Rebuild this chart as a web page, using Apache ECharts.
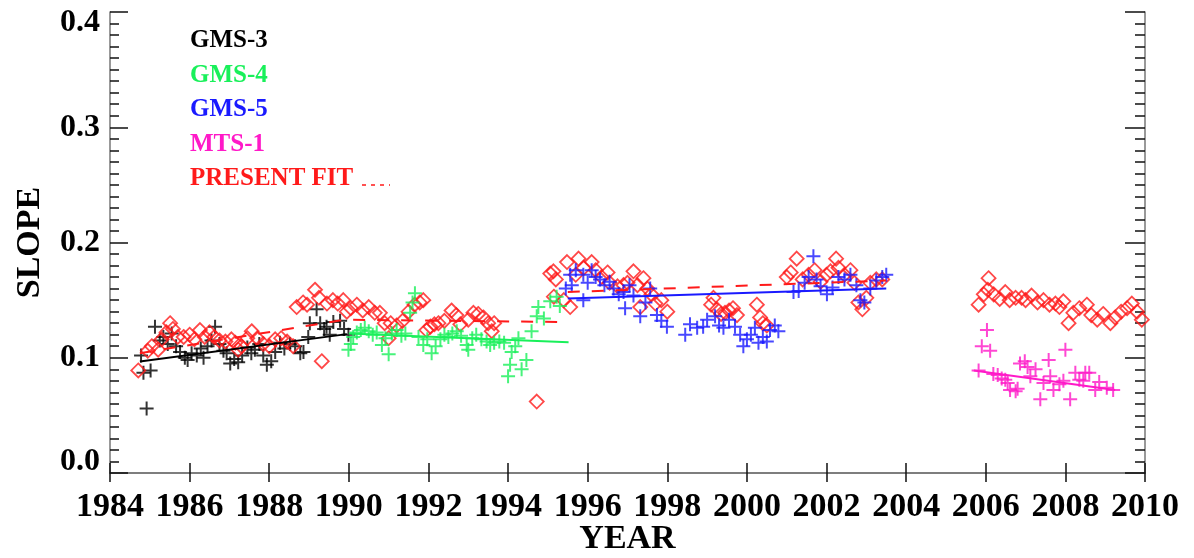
<!DOCTYPE html>
<html>
<head>
<meta charset="utf-8">
<script src="https://cdn.jsdelivr.net/npm/echarts@6/dist/echarts.min.js"></script>
<style>
  html, body { margin: 0; background: #fff; }
  #chart { width: 1194px; height: 558px; }
</style>
</head>
<body>
<div id="chart"></div>
<script>
// tick labels
const yearTicks = [1984, 1986, 1988, 1990, 1992, 1994, 1996, 1998, 2000, 2002, 2004, 2006, 2008, 2010];
const slopeTicks = [0.0, 0.1, 0.2, 0.3, 0.4];

// satellite slopes, [year, slope]
const gms3 = [[1984.78,0.102],[1984.84,0.087],[1984.92,0.056],[1985.02,0.089],[1985.13,0.127],[1985.25,0.115],[1985.34,0.118],[1985.45,0.112],[1985.55,0.121],[1985.66,0.110],[1985.76,0.105],[1985.88,0.100],[1985.95,0.098],[1986.05,0.104],[1986.18,0.102],[1986.28,0.108],[1986.35,0.100],[1986.45,0.110],[1986.55,0.115],[1986.64,0.127],[1986.75,0.112],[1986.85,0.106],[1986.93,0.104],[1987.02,0.095],[1987.12,0.099],[1987.22,0.096],[1987.32,0.102],[1987.45,0.109],[1987.55,0.104],[1987.64,0.107],[1987.75,0.112],[1987.85,0.102],[1987.94,0.094],[1988.05,0.097],[1988.15,0.105],[1988.27,0.113],[1988.38,0.108],[1988.52,0.112],[1988.65,0.110],[1988.78,0.104],[1988.86,0.105],[1988.98,0.118],[1989.02,0.130],[1989.19,0.142],[1989.28,0.130],[1989.38,0.125],[1989.44,0.127],[1989.52,0.120],[1989.61,0.131],[1989.78,0.132],[1989.88,0.125],[1989.99,0.120]];
const gms4 = [[1989.99,0.107],[1990.05,0.112],[1990.11,0.118],[1990.2,0.122],[1990.3,0.124],[1990.4,0.126],[1990.5,0.123],[1990.6,0.120],[1990.7,0.122],[1990.83,0.111],[1990.92,0.117],[1991.0,0.103],[1991.08,0.121],[1991.2,0.124],[1991.32,0.119],[1991.42,0.121],[1991.54,0.139],[1991.6,0.148],[1991.66,0.156],[1991.75,0.118],[1991.87,0.111],[1991.97,0.116],[1992.08,0.104],[1992.18,0.110],[1992.3,0.116],[1992.4,0.120],[1992.5,0.118],[1992.6,0.121],[1992.71,0.123],[1992.82,0.119],[1992.96,0.111],[1993.0,0.107],[1993.1,0.117],[1993.2,0.120],[1993.33,0.116],[1993.46,0.114],[1993.55,0.111],[1993.65,0.113],[1993.78,0.114],[1993.9,0.113],[1994.0,0.084],[1994.05,0.094],[1994.09,0.105],[1994.18,0.110],[1994.26,0.117],[1994.34,0.090],[1994.46,0.098],[1994.59,0.123],[1994.72,0.136],[1994.76,0.144],[1994.9,0.134],[1995.06,0.149],[1995.22,0.153],[1995.3,0.145]];
const gms5 = [[1995.45,0.160],[1995.56,0.172],[1995.6,0.163],[1995.7,0.176],[1995.89,0.172],[1995.89,0.150],[1996.0,0.165],[1996.1,0.176],[1996.2,0.170],[1996.31,0.168],[1996.42,0.163],[1996.55,0.166],[1996.65,0.160],[1996.78,0.155],[1996.9,0.157],[1996.94,0.143],[1997.05,0.163],[1997.15,0.154],[1997.32,0.136],[1997.45,0.148],[1997.57,0.160],[1997.74,0.137],[1997.85,0.132],[1997.99,0.127],[1998.45,0.120],[1998.57,0.129],[1998.75,0.126],[1998.9,0.127],[1999.0,0.133],[1999.2,0.136],[1999.3,0.128],[1999.41,0.126],[1999.55,0.133],[1999.7,0.127],[1999.83,0.120],[1999.91,0.110],[2000.0,0.116],[2000.1,0.120],[2000.2,0.126],[2000.29,0.113],[2000.4,0.118],[2000.5,0.114],[2000.58,0.124],[2000.7,0.128],[2000.79,0.123],[2001.17,0.157],[2001.3,0.158],[2001.45,0.165],[2001.55,0.170],[2001.67,0.188],[2001.75,0.168],[2001.85,0.162],[2002.01,0.155],[2002.15,0.161],[2002.3,0.170],[2002.45,0.168],[2002.6,0.172],[2002.75,0.163],[2002.85,0.150],[2002.95,0.148],[2003.1,0.160],[2003.25,0.167],[2003.4,0.170],[2003.5,0.172]];
const mts1 = [[2005.82,0.089],[2005.9,0.110],[2006.03,0.124],[2006.11,0.106],[2006.19,0.086],[2006.3,0.085],[2006.4,0.082],[2006.49,0.081],[2006.55,0.078],[2006.61,0.072],[2006.75,0.071],[2006.8,0.073],[2006.86,0.095],[2006.98,0.097],[2007.05,0.092],[2007.12,0.084],[2007.25,0.090],[2007.37,0.064],[2007.45,0.078],[2007.58,0.098],[2007.62,0.084],[2007.7,0.072],[2007.85,0.077],[2007.95,0.080],[2008.0,0.107],[2008.12,0.064],[2008.25,0.087],[2008.35,0.081],[2008.45,0.080],[2008.5,0.087],[2008.6,0.087],[2008.75,0.072],[2008.85,0.079],[2009.04,0.074],[2009.2,0.072]];
const present = [[1984.71,0.089],[1984.95,0.106],[1985.05,0.110],[1985.21,0.107],[1985.3,0.116],[1985.42,0.122],[1985.51,0.130],[1985.58,0.125],[1985.7,0.118],[1985.85,0.118],[1986.0,0.120],[1986.12,0.116],[1986.26,0.124],[1986.38,0.118],[1986.5,0.122],[1986.62,0.118],[1986.75,0.115],[1986.9,0.114],[1987.05,0.116],[1987.15,0.113],[1987.22,0.107],[1987.3,0.110],[1987.45,0.117],[1987.56,0.123],[1987.7,0.117],[1987.85,0.112],[1988.0,0.110],[1988.15,0.116],[1988.3,0.117],[1988.45,0.114],[1988.6,0.110],[1988.69,0.144],[1988.85,0.148],[1988.95,0.146],[1989.15,0.159],[1989.25,0.152],[1989.32,0.097],[1989.45,0.147],[1989.6,0.150],[1989.72,0.147],[1989.86,0.150],[1989.95,0.140],
  [1990.05,0.143],[1990.2,0.146],[1990.35,0.141],[1990.5,0.144],[1990.65,0.139],[1990.78,0.139],[1990.9,0.130],[1991.0,0.117],[1991.05,0.130],[1991.2,0.128],[1991.35,0.132],[1991.5,0.140],[1991.65,0.146],[1991.78,0.148],[1991.87,0.150],[1991.95,0.124],[1992.05,0.127],[1992.15,0.129],[1992.25,0.130],[1992.4,0.132],[1992.58,0.141],[1992.7,0.137],[1992.8,0.129],[1993.0,0.133],[1993.13,0.139],[1993.25,0.138],[1993.38,0.135],[1993.5,0.130],[1993.59,0.123],[1993.65,0.130],[1994.72,0.062],[1995.06,0.173],[1995.14,0.175],[1995.2,0.168],[1995.15,0.153],[1995.4,0.150],[1995.48,0.183],[1995.56,0.144],
  [1995.7,0.172],[1995.77,0.186],[1995.9,0.178],[1996.1,0.183],[1996.2,0.176],[1996.35,0.170],[1996.5,0.174],[1996.55,0.165],[1996.75,0.162],[1996.9,0.163],[1997.0,0.165],[1997.15,0.175],[1997.25,0.163],[1997.32,0.144],[1997.4,0.169],[1997.5,0.160],[1997.6,0.155],[1997.7,0.147],[1997.85,0.150],[1998.0,0.140],[1999.1,0.146],[1999.16,0.152],[1999.25,0.142],[1999.35,0.138],[1999.45,0.139],[1999.55,0.141],[1999.65,0.143],[1999.75,0.137],[2000.25,0.146],[2000.33,0.135],[2000.4,0.130],[2000.5,0.128],[2001.0,0.170],[2001.1,0.174],[2001.25,0.186],[2001.4,0.168],[2001.55,0.172],[2001.7,0.176],[2001.85,0.166],[2002.0,0.172],[2002.1,0.175],[2002.24,0.186],[2002.3,0.178],[2002.45,0.172],[2002.6,0.176],[2002.7,0.165],[2002.8,0.148],[2002.9,0.142],[2003.0,0.152],[2003.1,0.165],[2003.25,0.168],[2003.4,0.168],
  [2005.82,0.146],[2005.95,0.155],[2006.05,0.159],[2006.07,0.169],[2006.2,0.155],[2006.35,0.151],[2006.49,0.157],[2006.6,0.150],[2006.75,0.152],[2006.9,0.152],[2007.0,0.150],[2007.15,0.154],[2007.3,0.148],[2007.45,0.150],[2007.6,0.146],[2007.75,0.147],[2007.85,0.144],[2007.95,0.149],[2008.08,0.130],[2008.2,0.139],[2008.35,0.143],[2008.54,0.146],[2008.65,0.137],[2008.8,0.133],[2008.95,0.138],[2009.13,0.130],[2009.25,0.135],[2009.4,0.140],[2009.55,0.143],[2009.67,0.147],[2009.8,0.140],[2009.92,0.133]];

// linear fits, end points
const gms3Fit = [[1984.75,0.0967],[1989.95,0.1205]];
const gms4Fit = [[1990.0,0.121],[1995.52,0.1135]];
const gms5Fit = [[1995.5,0.1515],[2003.5,0.160]];
const mts1Fit = [[2005.7,0.089],[2009.25,0.072]];
const presentFitA = [[1984.75,0.104],[1989.9,0.133],[1995.5,0.131]];
const presentFitB = [[1995.5,0.157],[2003.5,0.167]];

const C3 = '#000000', C4 = '#19f05a', C5 = '#1a1aff', CM = '#ff19c8', CR = '#ff1a1a';
const FONT = 'Liberation Serif';
const plus = 'path://M0,7L14,7M7,0L7,14';

function crosses(name, data, color) {
  return {
    name, type: 'scatter', data, symbol: plus, symbolSize: 14,
    itemStyle: { color: 'none', borderColor: color, borderWidth: 2 }
  };
}
function fit(data, color, dashed) {
  return {
    type: 'line', data, symbol: 'none', silent: true,
    lineStyle: { color, width: 2, type: dashed ? [12, 12] : 'solid' }
  };
}

const myChart = echarts.init(document.getElementById('chart'));
const tickStyle = { color: '#111', width: 1.5 };
const legendFont = 'bold 25px "Liberation Serif"';
const option = {
  animation: false,
  grid: { left: 110, right: 49, top: 12, bottom: 85, outerBoundsMode: 'none', containLabel: false },
  xAxis: [{
    type: 'value', min: 1984, max: 2010, interval: 2,
    name: 'YEAR', nameLocation: 'middle', nameGap: 49, nameMoveOverlap: false,
    nameTextStyle: { fontFamily: FONT, fontWeight: 'bold', fontSize: 34, color: '#000' },
    axisLine: { lineStyle: { color: '#777', width: 1.5 } },
    axisTick: { inside: true, length: 10, lineStyle: tickStyle },
    axisLabel: {
      margin: 17, fontFamily: FONT, fontWeight: 'bold', fontSize: 34, color: '#000',
      formatter: v => yearTicks.includes(v) ? String(v) : ''
    },
    splitLine: { show: false }
  }, {
    type: 'value', position: 'top', min: 1984, max: 2010, interval: 2,
    axisLine: { lineStyle: { color: '#777', width: 1.5 } },
    axisTick: { inside: true, length: 9, lineStyle: tickStyle },
    axisLabel: { show: false }, splitLine: { show: false }
  }],
  yAxis: [{
    type: 'value', min: 0, max: 0.4, interval: 0.1,
    name: 'SLOPE', nameLocation: 'middle', nameGap: 63, nameRotate: 90,
    nameTextStyle: { fontFamily: FONT, fontWeight: 'bold', fontSize: 34, color: '#000' },
    axisLine: { lineStyle: { color: '#777', width: 1.5 } },
    axisTick: { inside: true, length: 18, lineStyle: tickStyle },
    minorTick: { show: true, splitNumber: 10, length: 9, lineStyle: tickStyle },
    axisLabel: {
      margin: 10, fontFamily: FONT, fontWeight: 'bold', fontSize: 32, lineHeight: 22, color: '#000',
      verticalAlignMinLabel: 'bottom', verticalAlignMaxLabel: 'top',
      formatter: v => {
        const t = slopeTicks.find(s => Math.abs(s - v) < 1e-9);
        return t === undefined ? '' : t.toFixed(1);
      }
    },
    splitLine: { show: false }
  }, {
    type: 'value', position: 'right', min: 0, max: 0.4, interval: 0.1,
    axisLine: { lineStyle: { color: '#777', width: 1.5 } },
    axisTick: { inside: true, length: 20, lineStyle: tickStyle },
    minorTick: { show: true, splitNumber: 10, length: 10, lineStyle: tickStyle },
    axisLabel: { show: false }, splitLine: { show: false }
  }],
  graphic: [
    { type: 'text', left: 190, top: 28, style: { text: 'GMS-3', fill: C3, font: legendFont } },
    { type: 'text', left: 190, top: 63, style: { text: 'GMS-4', fill: C4, font: legendFont } },
    { type: 'text', left: 190, top: 97, style: { text: 'GMS-5', fill: C5, font: legendFont } },
    { type: 'text', left: 190, top: 132, style: { text: 'MTS-1', fill: CM, font: legendFont } },
    { type: 'text', left: 190, top: 166, style: { text: 'PRESENT FIT', fill: CR, font: legendFont } },
    { type: 'line', shape: { x1: 362, y1: 185, x2: 390, y2: 185 },
      style: { stroke: CR, lineWidth: 1.5, lineDash: [4, 5] } }
  ],
  series: [
    crosses('GMS-3', gms3, C3),
    {
      name: 'PRESENT FIT', type: 'scatter', data: present, symbol: 'diamond', symbolSize: 14,
      itemStyle: { color: 'none', borderColor: CR, borderWidth: 1.8 }
    },
    crosses('GMS-4', gms4, C4),
    crosses('GMS-5', gms5, C5),
    crosses('MTS-1', mts1, CM),
    fit(gms3Fit, C3),
    fit(gms4Fit, C4),
    fit(gms5Fit, C5),
    fit(mts1Fit, CM),
    fit(presentFitA, CR, true),
    fit(presentFitB, CR, true)
  ]
};
myChart.setOption(option);
</script>
</body>
</html>
